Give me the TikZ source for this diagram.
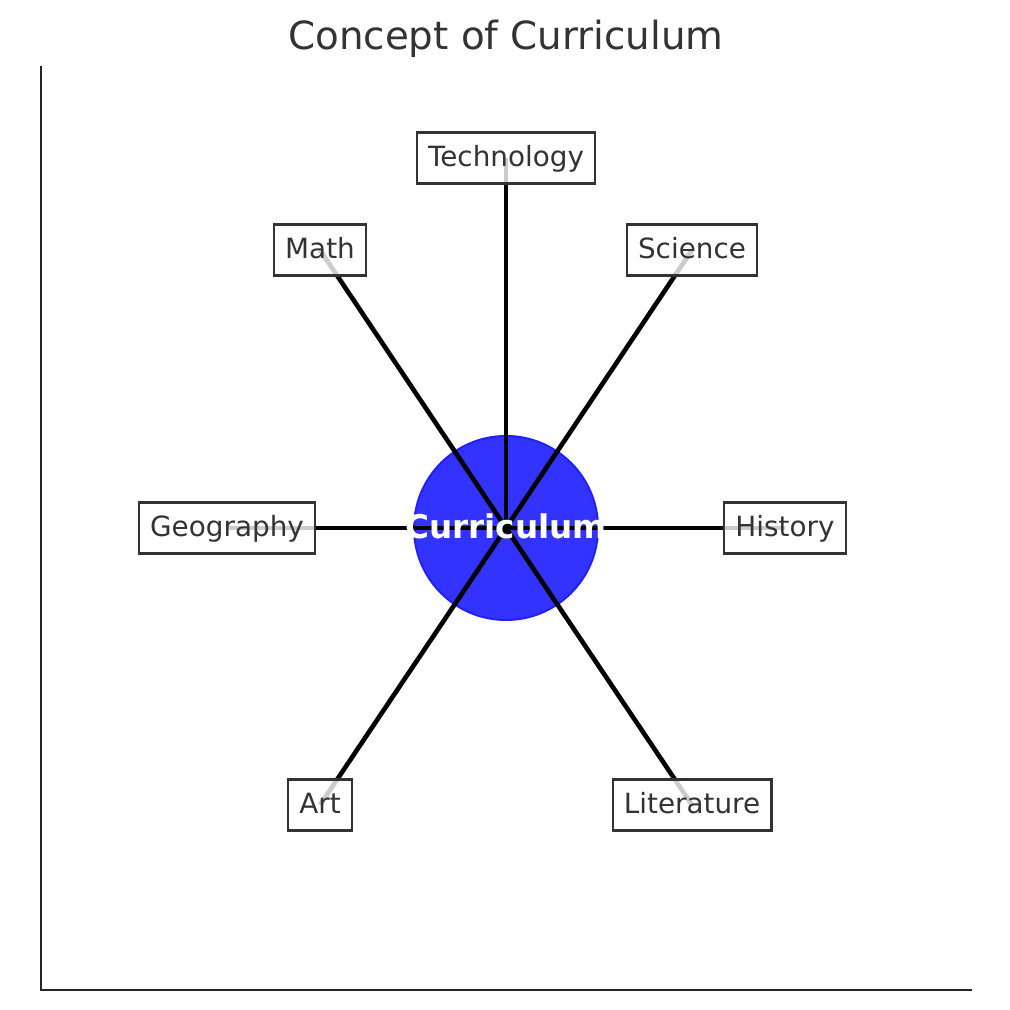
\documentclass[tikz,border=0pt]{standalone}
\usepackage{fontspec}
\setmainfont{DejaVu Sans}
\usetikzlibrary{positioning}
\pgfdeclarelayer{back}
\pgfdeclarelayer{spokes}
\pgfsetlayers{back,spokes,main}
\definecolor{txtgray}{HTML}{333333}
\definecolor{axisgray}{HTML}{262626}
\definecolor{hubblue}{HTML}{3333FF}
\definecolor{hubedge}{HTML}{2020FF}

\tikzset{
  subject/.style={draw=txtgray, line width=1.6pt, fill=white, fill opacity=0.8,
    text opacity=1, text=txtgray, font=\fontsize{19.8}{23}\selectfont,
    inner xsep=0.28cm, inner ysep=0.3cm, text height=0.55cm, text depth=0.125cm},
  spoke/.style={line width=3.3pt, black},
}

\begin{document}
\begin{tikzpicture}[x=0.025cm,y=0.025cm]
    \useasboundingbox (0,0) rectangle (1010,1010);

    % Axes spines
    \draw[axisgray, line width=1.7pt] (41,944) -- (41,20) -- (972,20);

    % Title
    \node[anchor=base, text=txtgray, font=\fontsize{27.6}{32}\selectfont] (title) at (506,960) {Concept of Curriculum};

    % Central circle
    \begin{pgfonlayer}{back}
    \node[circle, fill=hubblue, draw=hubedge, line width=1.4pt, minimum size=4.6cm, inner sep=0pt] (hub) at (506,482) {};
    \end{pgfonlayer}
    \node[text=white, font=\fontsize{23.2}{27}\selectfont\bfseries] (hubtext) at (506,484) {Curriculum};

    % Subjects
    \node[subject] (tech) at (506,852) {Technology};
    \node[subject] (math) at (320,760) {Math};
    \node[subject] (sci) at (692,760) {Science};
    \node[subject] (geo) at (227,482) {Geography};
    \node[subject] (hist) at (785,482) {History};
    \node[subject] (art) at (320,205) {Art};
    \node[subject] (lit) at (692,205) {Literature};

    % Spokes
    \begin{pgfonlayer}{spokes}
    \foreach \s in {tech,math,sci,geo,hist,art,lit}
        \draw[spoke] (hub.center) -- (\s.center);
    \end{pgfonlayer}
\end{tikzpicture}
\end{document}
